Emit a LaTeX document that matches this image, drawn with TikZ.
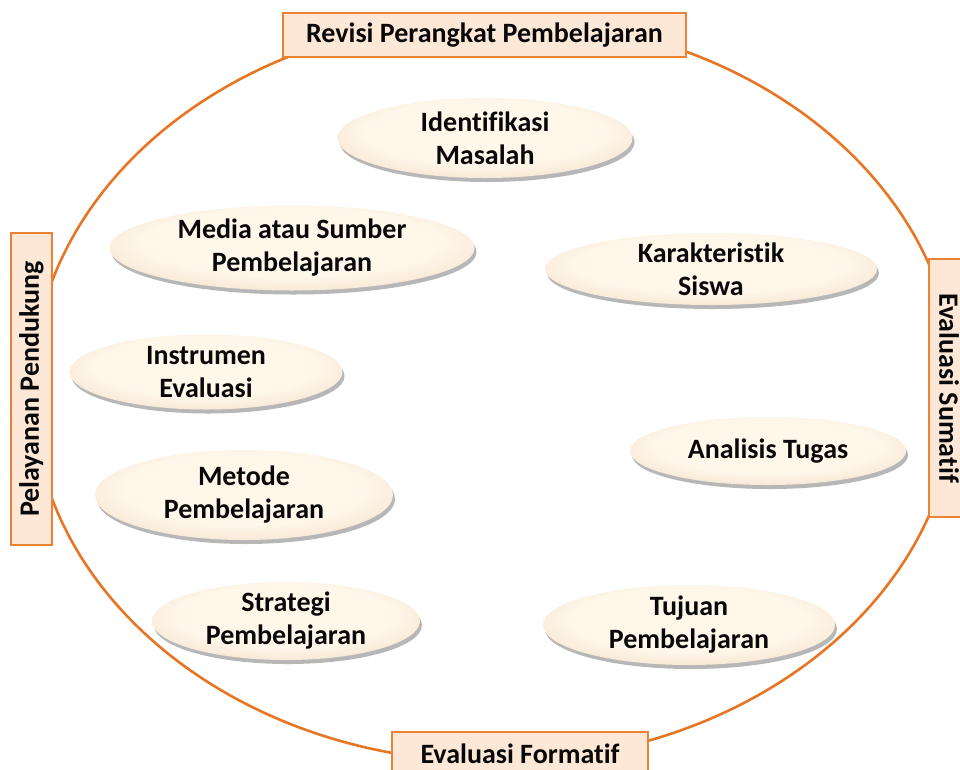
\documentclass[tikz,border=0pt]{standalone}
\usepackage{fontspec}
\setmainfont{Carlito}[Ligatures=NoCommon]
\usetikzlibrary{shapes.geometric,shadows}

\definecolor{ringorange}{RGB}{231,118,36}
\definecolor{boxfill}{RGB}{253,231,214}
\definecolor{boxline}{RGB}{238,130,52}
\definecolor{pillA}{RGB}{255,247,234}
\definecolor{pillB}{RGB}{240,218,194}
\definecolor{pillC}{RGB}{204,170,140}
\definecolor{pillD}{RGB}{150,116,90}
\definecolor{inktext}{RGB}{8,8,8}

% soft cream body with a darker rim
\pgfdeclareradialshading{pillshade}{\pgfpoint{0bp}{6bp}}{%
  color(0bp)=(pillA); color(20bp)=(pillA); color(36bp)=(pillB);
  color(45bp)=(pillC); color(50bp)=(pillD)}

\tikzset{
  labelfont/.style={font=\fontsize{28}{33}\selectfont\bfseries, text=inktext},
  pill/.style={ellipse, inner sep=0pt, shading=pillshade,
    drop shadow={shadow xshift=2pt, shadow yshift=-4pt, opacity=0.4, fill=black!70}},
  pilltext/.style={labelfont, align=center},
  sidebox/.style={rectangle, draw=boxline, line width=1.3pt, fill=boxfill,
    inner sep=0pt, labelfont},
  ring/.style={draw=ringorange, line width=2.6pt}
}

\begin{document}
\begin{tikzpicture}[x=1pt,y=-1pt]
\useasboundingbox (0,0) rectangle (960,769);
\clip (0,0) rectangle (960,769);

% the cycle
\draw[ring] (494,390) ellipse [x radius=462, y radius=372];

% stages round the cycle
\node[sidebox, minimum width=403, minimum height=44] (revisi) at (484.5,35) {Revisi Perangkat Pembelajaran};
\node[sidebox, rotate=90, minimum width=312, minimum height=41] (layan) at (31.5,389) {Pelayanan Pendukung};
\node[sidebox, rotate=-90, minimum width=258, minimum height=40] (sumatif) at (949,388) {Evaluasi Sumatif};
\node[sidebox, minimum width=256, minimum height=44] (formatif) at (520,754) {Evaluasi Formatif};

% design steps
\node[pill, minimum width=295, minimum height=80,
  label={[pilltext]center:Identifikasi\\Masalah}] (identifikasi) at (485,138) {};
\node[pill, minimum width=365, minimum height=85,
  label={[pilltext]center:Media atau Sumber\\Pembelajaran}] (media) at (292,248) {};
\node[pill, minimum width=332, minimum height=72,
  label={[pilltext]center:Karakteristik\\Siswa}] (siswa) at (711,269) {};
\node[pill, minimum width=273, minimum height=75,
  label={[pilltext]center:Instrumen\\Evaluasi}] (instrumen) at (206,372) {};
\node[pill, minimum width=276, minimum height=68,
  label={[pilltext]center:Analisis Tugas}] (analisis) at (768,451) {};
\node[pill, minimum width=298, minimum height=90,
  label={[pilltext]center:Metode\\Pembelajaran}] (metode) at (244,495) {};
\node[pill, minimum width=268, minimum height=78,
  label={[pilltext]center:Strategi\\Pembelajaran}] (strategi) at (286,621) {};
\node[pill, minimum width=292, minimum height=80,
  label={[pilltext]center:Tujuan\\Pembelajaran}] (tujuan) at (689,625) {};
\end{tikzpicture}
\end{document}
